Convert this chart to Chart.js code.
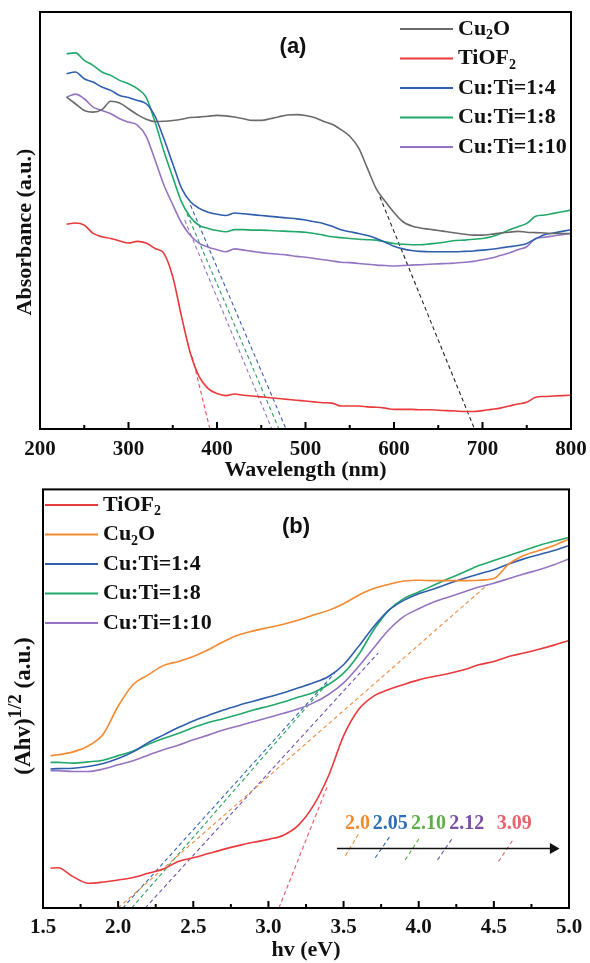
<!DOCTYPE html>
<html>
<head>
<meta charset="utf-8">
<script src="https://cdn.jsdelivr.net/npm/chart.js@4"></script>
<style>
  body { margin: 0; background: #fff; }
  canvas { display: block; }
</style>
</head>
<body>
<canvas id="chartA" width="590" height="483"></canvas>
<canvas id="chartB" width="590" height="480"></canvas>
<script>
// ---------- panel (a): UV-vis absorbance ----------
var wavelength = [230,240,250,260,270,280,290,300,310,320,330,340,350,360,370,380,390,400,410,420,
  430,440,450,460,470,480,490,500,510,520,530,540,550,560,570,580,590,600,610,620,
  630,640,650,660,670,680,690,700,710,720,730,740,750,760,770,780,790,800];
var absCu2O = [79.6,78.0,76.4,76.0,76.6,78.6,78.2,76.8,75.4,74.3,73.7,73.8,74.0,74.3,74.7,74.8,75.0,75.2,75.1,74.8,
  74.4,74.0,74.0,74.4,74.9,75.3,75.4,75.2,74.7,73.8,73.1,71.8,70.2,67.4,62.5,57.6,54.6,51.9,49.7,48.7,
  48.2,47.9,47.6,47.3,47.0,46.7,46.5,46.5,46.7,47.0,47.2,47.4,47.2,47.1,47.0,46.9,46.9,46.9];
var absTiOF2 = [49.1,49.4,48.9,46.9,46.1,45.7,45.1,44.6,45.0,44.6,43.3,42.1,36.5,26.9,18.1,12.5,9.7,8.5,8.0,8.4,
  8.1,7.9,7.7,7.5,7.3,7.1,6.9,6.7,6.5,6.3,6.2,5.5,5.5,5.5,5.3,5.2,5.0,4.7,4.7,4.7,
  4.6,4.6,4.5,4.4,4.3,4.2,4.2,4.4,4.7,5.0,5.5,6.0,6.4,7.6,7.8,7.9,8.0,8.1];
var absCuTi14 = [85.2,85.6,84.0,83.2,82.0,81.2,80.0,79.5,78.8,78.0,75.0,69.6,63.6,57.7,54.5,52.9,52.0,51.5,51.2,51.8,
  51.6,51.4,51.2,51.0,50.8,50.6,50.4,50.1,49.7,49.3,48.6,47.8,47.3,46.9,46.4,45.7,44.8,43.8,43.2,42.8,
  42.6,42.5,42.5,42.5,42.5,42.6,42.7,42.9,43.1,43.4,43.7,44.0,44.5,45.6,46.6,47.0,47.4,47.8];
var absCuTi18 = [90.0,90.2,88.4,87.2,85.6,84.8,83.6,82.8,81.6,79.5,73.6,66.6,60.4,54.4,50.8,48.8,48.1,47.6,47.3,47.8,
  47.8,47.7,47.7,47.6,47.5,47.4,47.3,47.2,46.9,46.5,46.1,45.9,45.7,45.5,45.4,45.3,44.9,44.5,44.3,44.2,
  44.2,44.4,44.6,44.9,45.2,45.3,45.5,45.7,46.1,46.8,47.7,48.5,49.3,51.0,51.3,51.7,52.1,52.5];
var absCuTi110 = [79.6,80.3,79.2,77.2,76.4,75.6,74.4,73.6,72.9,70.2,64.5,58.5,53.8,49.4,46.4,44.5,43.6,43.0,42.5,43.2,
  42.9,42.6,42.3,42.1,41.9,41.7,41.4,41.2,40.9,40.6,40.3,40.0,39.9,39.7,39.5,39.3,39.2,39.1,39.2,39.3,
  39.4,39.5,39.6,39.7,39.8,40.0,40.2,40.6,41.0,41.6,42.2,43.0,43.7,45.7,46.0,46.3,46.6,46.9];

// absorption-edge tangents (start point on the curve, end on the axis)
var edgeWlTiOF2 = [372, 392],   edgeAbsTiOF2 = [17.3, 0];
var edgeWl14 = [370, 478],      edgeAbs14 = [53.7, 0];
var edgeWl18 = [366, 470],      edgeAbs18 = [51.7, 0];
var edgeWl110 = [363.5, 462],   edgeAbs110 = [50.1, 0];
var edgeWlCu2O = [584, 691],    edgeAbsCu2O = [55.7, 0];

var wlTicks = [200, 800, 100];   // min, max, step

// ---------- panel (b): Tauc plot ----------
var energy = [1.55,1.6,1.7,1.8,1.9,2.0,2.1,2.2,2.3,2.4,2.5,2.6,2.7,2.8,2.9,3.0,3.1,3.2,
  3.3,3.4,3.5,3.6,3.7,3.8,3.9,4.0,4.1,4.2,4.3,4.4,4.5,4.6,4.7,4.8,4.9,5.0];
var taucTiOF2 = [9.5,9.6,7.5,5.9,6.2,6.7,7.3,8.3,9.3,11.1,12.0,13.0,14.0,14.9,15.7,16.4,17.4,19.8,
  24.5,31.6,41.1,47.4,50.6,52.2,53.4,54.5,55.3,56.0,56.9,58.1,58.9,60.1,60.9,61.8,62.8,63.9];
var taucCu2O = [36.4,36.6,37.3,38.7,41.5,48.2,53.4,55.7,57.9,58.9,60.1,61.7,63.6,65.2,66.2,67.0,67.8,68.8,
  70.0,71.1,72.7,74.7,76.3,77.3,78.1,78.3,78.2,78.2,78.2,78.3,78.7,82.2,84.2,85.4,86.6,88.1];
var taucCuTi14 = [33.2,33.3,33.4,33.8,34.5,35.7,37.3,39.5,41.3,43.1,44.7,46.0,47.3,48.4,49.4,50.4,51.4,52.6,
  53.8,55.3,58.1,62.5,67.2,71.1,73.5,75.1,76.2,77.5,78.7,79.8,80.8,82.2,83.4,84.4,85.4,86.6];
var taucCuTi18 = [34.8,34.8,34.6,34.9,35.3,36.4,37.5,39.1,40.5,41.7,43.1,44.3,45.2,46.2,47.3,48.2,49.2,50.4,
  51.5,53.4,56.1,60.5,66.4,71.1,73.9,75.5,77.1,78.7,80.2,81.8,83.0,84.2,85.4,86.6,87.6,88.5];
var taucCuTi110 = [32.8,32.8,32.6,32.6,33.2,34.2,35.2,36.5,37.8,38.9,40.2,41.3,42.5,43.5,44.5,45.5,46.5,47.6,
  49.0,51.0,53.8,57.7,62.1,66.4,69.6,71.5,73.1,74.3,75.5,76.7,77.6,78.7,79.8,80.8,82.0,83.4];

// band-gap extrapolations
var fitEvTiOF2 = [3.07, 3.39],  fitValTiOF2 = [0, 28.9];
var fitEvCu2O = [2.0, 4.46],    fitValCu2O = [0, 77.3];
var fitEv14 = [2.03, 3.44],     fitVal14 = [0, 56.1];
var fitEv18 = [2.09, 3.40],     fitVal18 = [0, 54.0];
var fitEv110 = [2.18, 3.73],    fitVal110 = [0, 60.9];

// band-gap scale (arrow with marks)
var arrowEv = [3.456, 4.894], arrowVal = [14.2, 14.2];
var gapMarkEv = [[3.512, 3.600], [3.711, 3.806], [3.910, 4.005], [4.125, 4.225], [4.531, 4.631]];
var gapMarkVal = [[12.5, 17.7], [12.0, 17.0], [11.5, 16.7], [11.5, 16.7], [11.1, 16.5]];
var gapLabels = ['2.0', '2.05', '2.10', '2.12', '3.09'];
var gapLabelEv = [3.593, 3.81, 4.065, 4.32, 4.635];
var gapLabelVal = 20.2;

var evTicks = [1.5, 5.0, 0.5];

// ---------- styling ----------
var SERIF = "'Liberation Serif', 'Times New Roman', serif";
var SANS = "'Liberation Sans', Arial, sans-serif";
var C = {
  gray: '#6a6a6a', red: '#e8393c', blue: '#2f5fac', green: '#22a86a',
  purple: '#9474c2', orange: '#f5892f'
};
var gapColors = ['#f28a30', '#2c6fb7', '#5daf47', '#7b4fa3', '#e9636c'];

function pts(xs, ys) {
  return xs.map(function (x, i) { return { x: x, y: ys[i] }; });
}
function curve(label, xs, ys, color) {
  return { label: label, data: pts(xs, ys), borderColor: color, backgroundColor: color,
    borderWidth: 1.6, pointRadius: 0, cubicInterpolationMode: 'monotone', fill: false };
}
function dashed(xs, ys, color) {
  return { label: '', data: pts(xs, ys), borderColor: color, borderWidth: 1.1,
    borderDash: [4, 3], pointRadius: 0, tension: 0, fill: false };
}

// text with ₂ drawn as a real subscript
function richText(ctx, str, x, y, size) {
  var parts = str.split('\u2082');
  for (var i = 0; i < parts.length; i++) {
    ctx.font = 'bold ' + size + 'px ' + SERIF;
    ctx.fillText(parts[i], x, y);
    x += ctx.measureText(parts[i]).width;
    if (i < parts.length - 1) {
      ctx.font = 'bold ' + Math.round(size * 0.62) + 'px ' + SERIF;
      ctx.fillText('2', x, y + size * 0.3);
      x += ctx.measureText('2').width;
    }
  }
  return x;
}

var decor = {
  id: 'decor',
  afterDraw: function (chart) {
    var o = chart.options.plugins.decor;
    var ctx = chart.ctx, a = chart.chartArea, xs = chart.scales.x, ys = chart.scales.y;
    ctx.save();
    // frame
    ctx.strokeStyle = '#000';
    ctx.lineWidth = 2;
    ctx.strokeRect(a.left, a.top, a.right - a.left, a.bottom - a.top);
    // inward ticks on the bottom axis, minor halfway
    var t = xs.ticks;
    ctx.beginPath();
    for (var i = 0; i < t.length; i++) {
      var px = xs.getPixelForValue(t[i].value);
      ctx.moveTo(px, a.bottom); ctx.lineTo(px, a.bottom - 7);
      if (i < t.length - 1) {
        var mx = xs.getPixelForValue((t[i].value + t[i + 1].value) / 2);
        ctx.moveTo(mx, a.bottom); ctx.lineTo(mx, a.bottom - 4);
      }
    }
    ctx.stroke();

    // panel tag
    ctx.fillStyle = '#111';
    ctx.textAlign = 'center';
    ctx.textBaseline = 'middle';
    ctx.font = 'bold 22px ' + SANS;
    ctx.fillText(o.tag, o.tagX, o.tagY);

    // legend
    ctx.textAlign = 'left';
    o.legend.forEach(function (idx, k) {
      var ds = chart.data.datasets[idx];
      var y = o.legendY + k * o.legendGap;
      ctx.strokeStyle = ds.borderColor;
      ctx.lineWidth = 2;
      ctx.beginPath();
      ctx.moveTo(o.legendX, y); ctx.lineTo(o.legendX + 53, y);
      ctx.stroke();
      ctx.fillStyle = '#111';
      richText(ctx, ds.label, o.legendX + 58, y, 22);
    });

    // y title (rotated)
    ctx.save();
    ctx.translate(0, o.yTitleY);
    ctx.rotate(-Math.PI / 2);
    ctx.textBaseline = 'alphabetic';
    ctx.fillStyle = '#111';
    var parts = o.yTitle;
    var widths = parts.map(function (p) {
      ctx.font = 'bold ' + p.size + 'px ' + SERIF;
      return ctx.measureText(p.text).width;
    });
    var total = widths.reduce(function (s, w) { return s + w; }, 0);
    var x0 = -total / 2;
    parts.forEach(function (p, k) {
      ctx.font = 'bold ' + p.size + 'px ' + SERIF;
      ctx.fillText(p.text, x0, o.yTitleBase - (p.rise || 0));
      x0 += widths[k];
    });
    ctx.restore();

    // band-gap labels
    if (o.gapLabels) {
      ctx.textAlign = 'center';
      ctx.textBaseline = 'middle';
      ctx.font = 'bold 20px ' + SERIF;
      o.gapLabels.forEach(function (s, k) {
        ctx.fillStyle = gapColors[k];
        ctx.fillText(s, xs.getPixelForValue(gapLabelEv[k]), ys.getPixelForValue(gapLabelVal));
      });
    }
    ctx.restore();
  }
};

function xAxis(tk, titleText, fmt, height, tickPad, titlePad) {
  return {
    type: 'linear', min: tk[0], max: tk[1],
    grid: { display: false, drawTicks: false },
    border: { display: false },
    ticks: { stepSize: tk[2], autoSkip: false, maxRotation: 0, padding: tickPad, color: '#111',
      font: { family: SERIF, size: 21, weight: 'bold' }, callback: fmt },
    title: { display: true, text: titleText, color: '#111', padding: { top: 0, bottom: titlePad },
      font: { family: SERIF, size: 22, weight: 'bold', lineHeight: 1.0 } },
    afterFit: function (s) { s.height = height; s.paddingLeft = 0; s.paddingRight = 0; }
  };
}
function yAxis(width) {
  return {
    min: 0, max: 100,
    grid: { display: false, drawTicks: false },
    border: { display: false },
    ticks: { display: false },
    afterFit: function (s) { s.width = width; }
  };
}

// ---------- chart (a) ----------
new Chart(document.getElementById('chartA'), {
  type: 'line',
  data: {
    datasets: [
      curve('Cu\u2082O', wavelength, absCu2O, C.gray),
      curve('TiOF\u2082', wavelength, absTiOF2, C.red),
      curve('Cu:Ti=1:4', wavelength, absCuTi14, C.blue),
      curve('Cu:Ti=1:8', wavelength, absCuTi18, C.green),
      curve('Cu:Ti=1:10', wavelength, absCuTi110, C.purple),
      dashed(edgeWlTiOF2, edgeAbsTiOF2, '#e8505a'),
      dashed(edgeWl14, edgeAbs14, '#3a5fb0'),
      dashed(edgeWl18, edgeAbs18, '#2aa060'),
      dashed(edgeWl110, edgeAbs110, '#9474c2'),
      dashed(edgeWlCu2O, edgeAbsCu2O, '#222222')
    ]
  },
  options: {
    responsive: false, animation: false, devicePixelRatio: 1,
    layout: { padding: { top: 12, right: 19, left: 0, bottom: 0 } },
    scales: {
      x: xAxis(wlTicks, 'Wavelength (nm)', function (v) { return v; }, 54, 8, 1.5),
      y: yAxis(40)
    },
    plugins: {
      legend: { display: false }, tooltip: { enabled: false },
      decor: {
        tag: '(a)', tagX: 293, tagY: 47,
        legend: [0, 1, 2, 3, 4], legendX: 400, legendY: 29, legendGap: 29.5,
        yTitle: [{ text: 'Absorbance (a.u.)', size: 22 }], yTitleY: 232, yTitleBase: 31
      }
    }
  },
  plugins: [decor]
});

// ---------- chart (b) ----------
var arrowSet = {
  label: '', data: pts(arrowEv, arrowVal), borderColor: '#111', backgroundColor: '#111',
  borderWidth: 1.4, pointRadius: [0, 5], pointStyle: 'triangle', rotation: 90, tension: 0
};
var markSets = gapMarkEv.map(function (xs, k) { return dashed(xs, gapMarkVal[k], gapColors[k]); });

new Chart(document.getElementById('chartB'), {
  type: 'line',
  data: {
    datasets: [
      curve('TiOF\u2082', energy, taucTiOF2, C.red),
      curve('Cu\u2082O', energy, taucCu2O, C.orange),
      curve('Cu:Ti=1:4', energy, taucCuTi14, C.blue),
      curve('Cu:Ti=1:8', energy, taucCuTi18, C.green),
      curve('Cu:Ti=1:10', energy, taucCuTi110, C.purple),
      dashed(fitEvTiOF2, fitValTiOF2, '#ea5a66'),
      dashed(fitEvCu2O, fitValCu2O, '#f08a3a'),
      dashed(fitEv14, fitVal14, '#3068b4'),
      dashed(fitEv18, fitVal18, '#2aa060'),
      dashed(fitEv110, fitVal110, '#6f4fb0'),
      arrowSet
    ].concat(markSets)
  },
  options: {
    responsive: false, animation: false, devicePixelRatio: 1,
    layout: { padding: { top: 3, right: 21, left: 0, bottom: 0 } },
    scales: {
      x: xAxis(evTicks, 'hv (eV)', function (v) { return Number(v).toFixed(1); }, 55, 7, 2),
      y: yAxis(43)
    },
    plugins: {
      legend: { display: false }, tooltip: { enabled: false },
      decor: {
        tag: '(b)', tagX: 296, tagY: 44,
        legend: [0, 1, 2, 3, 4], legendX: 45, legendY: 22, legendGap: 29.5,
        yTitle: [{ text: '(Ahv)', size: 23 }, { text: '1/2', size: 19, rise: 9 }, { text: ' (a.u.)', size: 23 }],
        yTitleY: 223, yTitleBase: 30,
        gapLabels: gapLabels
      }
    }
  },
  plugins: [decor]
});
</script>
</body>
</html>
